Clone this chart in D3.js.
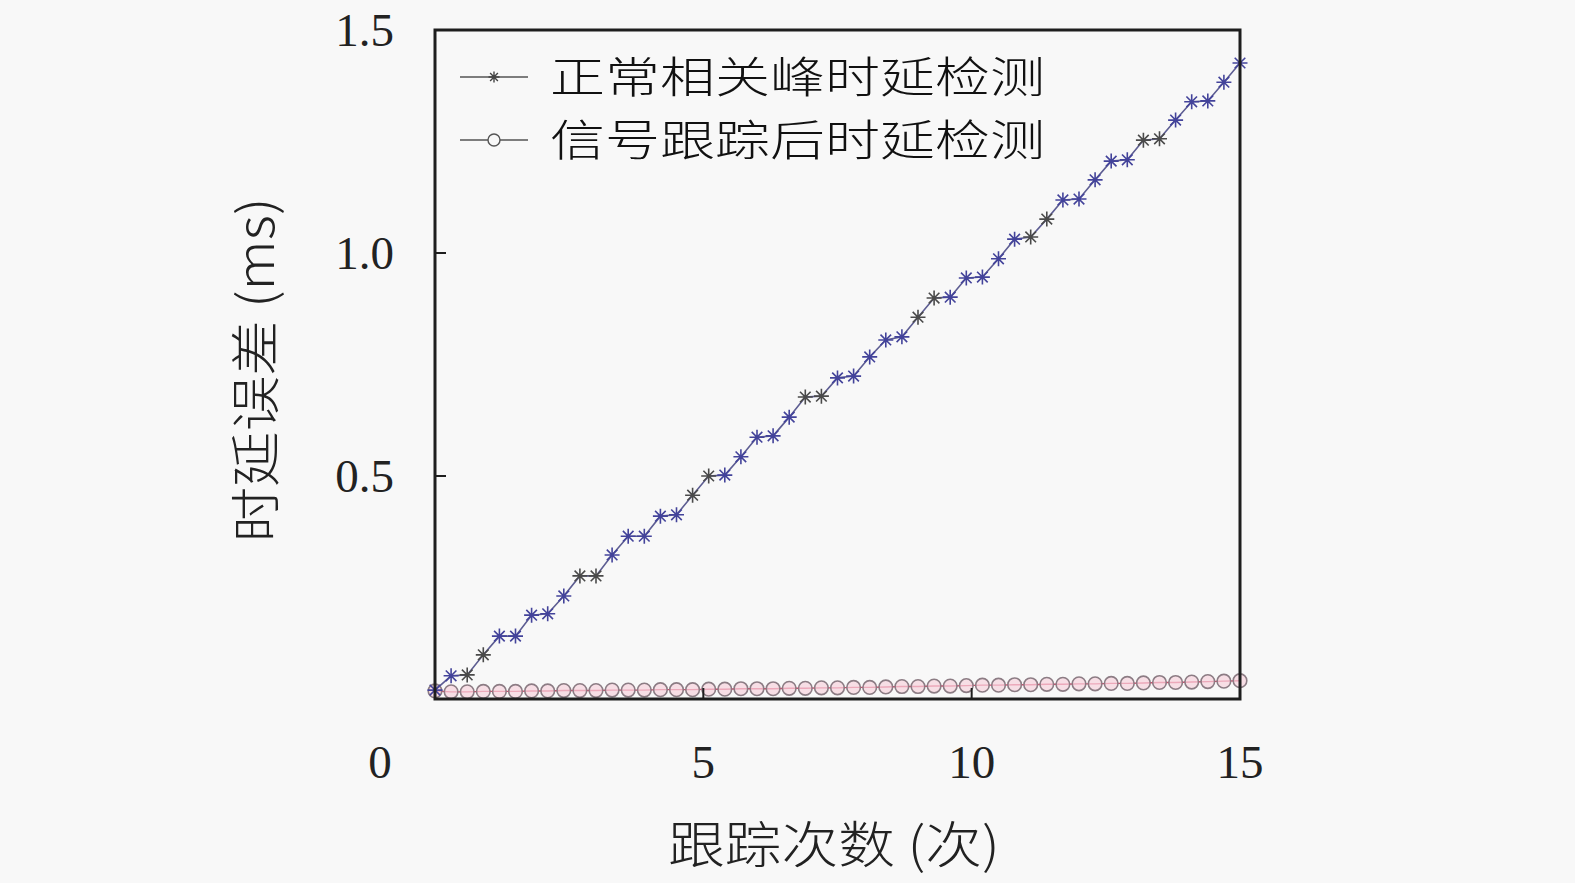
<!DOCTYPE html>
<html>
<head>
<meta charset="utf-8">
<script src="https://cdn.jsdelivr.net/npm/d3@7/dist/d3.min.js"></script>
<style>
  html, body { margin: 0; padding: 0; background: #f8f8f8; }
  svg { display: block; }
</style>
</head>
<body>
<svg id="chart" width="1575" height="883"></svg>
<script>
// ---- data ----
const xValues = d3.range(51).map(i => +(i * 0.3).toFixed(1)); // tracking count, step 0.3
const normalDelay = [
  0.020, 0.052, 0.054, 0.099, 0.141, 0.141, 0.188, 0.191, 0.231, 0.276,
  0.276, 0.323, 0.365, 0.365, 0.410, 0.413, 0.457, 0.500, 0.502, 0.543,
  0.587, 0.590, 0.632, 0.677, 0.679, 0.720, 0.724, 0.767, 0.805, 0.812,
  0.856, 0.899, 0.901, 0.944, 0.946, 0.987, 1.031, 1.036, 1.076, 1.119,
  1.121, 1.164, 1.206, 1.209, 1.253, 1.256, 1.298, 1.339, 1.341, 1.383,
  1.426
];
const trackedDelay = [
  0.018, 0.016, 0.016, 0.017, 0.017, 0.017, 0.018, 0.018, 0.019, 0.019,
  0.019, 0.020, 0.020, 0.020, 0.021, 0.021, 0.021, 0.022, 0.022, 0.023,
  0.023, 0.023, 0.024, 0.024, 0.025, 0.025, 0.026, 0.026, 0.027, 0.028,
  0.028, 0.029, 0.029, 0.030, 0.031, 0.031, 0.032, 0.032, 0.033, 0.033,
  0.034, 0.034, 0.035, 0.035, 0.036, 0.037, 0.037, 0.038, 0.039, 0.040,
  0.041
];
const seriesNames = ["正常相关峰时延检测", "信号跟踪后时延检测"];
const xTicks = [0, 5, 10, 15];
const yTicks = [0.5, 1.0, 1.5];
const xTitle = "跟踪次数 (次)";
const yTitle = "时延误差 (ms)";

// ---- layout ----
const svg = d3.select("#chart");
const padL = 435, padR = 1240, padT = 30, padB = 699;
const x = d3.scaleLinear().domain([0, 15]).range([padL, padR]);
const y = d3.scaleLinear().domain([0, 1.5]).range([padB, padT]);

const numFont = "'Liberation Serif', 'DejaVu Serif', serif";
const cjkFont = "'Noto Sans CJK SC', 'Noto Sans', sans-serif";

svg.append("rect").attr("width", 1575).attr("height", 883).attr("fill", "#f8f8f8");

svg.append("clipPath").attr("id", "clip")
  .append("rect").attr("x", padL - 8).attr("y", padT).attr("width", padR - padL + 16).attr("height", padB - padT + 4);

// ---- series ----
const g = svg.append("g").attr("clip-path", "url(#clip)");

function starPath(r) {
  const d = r * Math.SQRT1_2;
  return `M${-r},0L${r},0M0,${-r}L0,${r}M${-d},${-d}L${d},${d}M${-d},${d}L${d},${-d}`;
}

const line = d3.line().x((d, i) => x(xValues[i])).y(d => y(d));

// tracked series (circles)
g.append("path").datum(trackedDelay)
  .attr("d", line)
  .attr("fill", "none").attr("stroke", "#d2476a").attr("stroke-width", 1.4);
g.selectAll("circle.trk").data(trackedDelay).join("circle")
  .attr("class", "trk")
  .attr("cx", (d, i) => x(xValues[i]))
  .attr("cy", d => y(d))
  .attr("r", 6.8)
  .attr("fill", "#f7d3dd").attr("fill-opacity", 0.7)
  .attr("stroke", "#8c7c84").attr("stroke-width", 1.6);

// normal series (stars)
g.append("path").datum(normalDelay)
  .attr("d", line)
  .attr("fill", "none").attr("stroke", "#5d5d92").attr("stroke-width", 1.6);
g.selectAll("path.star").data(normalDelay).join("path")
  .attr("class", "star")
  .attr("transform", (d, i) => `translate(${x(xValues[i])},${y(d)})`)
  .attr("d", starPath(7.5))
  .attr("fill", "none")
  .attr("stroke", (d, i) => (i % 7 === 2 || i % 7 === 3) ? "#4a4a4a" : "#43439a")
  .attr("stroke-width", 1.6);

// ---- axes box ----
svg.append("rect")
  .attr("x", padL).attr("y", padT)
  .attr("width", padR - padL).attr("height", padB - padT)
  .attr("fill", "none").attr("stroke", "#1e1e1e").attr("stroke-width", 3);

const tickLen = 11;
svg.selectAll("line.xt").data(xTicks.filter(t => t > 0 && t < 15)).join("line")
  .attr("class", "xt")
  .attr("x1", d => x(d)).attr("x2", d => x(d))
  .attr("y1", padB).attr("y2", padB - tickLen)
  .attr("stroke", "#1e1e1e").attr("stroke-width", 2);
svg.selectAll("line.yt").data(yTicks.filter(t => t < 1.5)).join("line")
  .attr("class", "yt")
  .attr("x1", padL).attr("x2", padL + tickLen)
  .attr("y1", d => y(d)).attr("y2", d => y(d))
  .attr("stroke", "#1e1e1e").attr("stroke-width", 2);

svg.selectAll("text.xl").data(xTicks).join("text")
  .attr("class", "xl")
  .attr("x", d => d === 0 ? x(0) - 55 : x(d))
  .attr("y", 778)
  .attr("text-anchor", "middle")
  .attr("font-family", numFont).attr("font-size", 47).attr("fill", "#222")
  .text(d => d3.format("d")(d));
svg.selectAll("text.yl").data(yTicks).join("text")
  .attr("class", "yl")
  .attr("x", 394)
  .attr("y", d => y(d) + 16)
  .attr("text-anchor", "end")
  .attr("font-family", numFont).attr("font-size", 47).attr("fill", "#222")
  .text(d => d3.format(".1f")(d));

svg.append("text")
  .attr("x", 834).attr("y", 863)
  .attr("text-anchor", "middle")
  .attr("font-family", cjkFont).attr("font-weight", 300).attr("font-size", 50).attr("fill", "#222")
  .attr("textLength", 332).attr("lengthAdjust", "spacingAndGlyphs")
  .text(xTitle);
svg.append("text")
  .attr("transform", "translate(274,370) rotate(-90)")
  .attr("text-anchor", "middle")
  .attr("font-family", cjkFont).attr("font-weight", 300).attr("font-size", 50).attr("fill", "#222")
  .attr("textLength", 345).attr("lengthAdjust", "spacingAndGlyphs")
  .text(yTitle);

// ---- legend ----
const lg = svg.append("g");
const rowY = [77, 140];
seriesNames.forEach((name, k) => {
  lg.append("line")
    .attr("x1", 460).attr("x2", 528)
    .attr("y1", rowY[k]).attr("y2", rowY[k])
    .attr("stroke", "#555").attr("stroke-width", 1.5);
  if (k === 0) {
    lg.append("path")
      .attr("transform", `translate(494,${rowY[k]})`)
      .attr("d", starPath(5.5))
      .attr("fill", "none").attr("stroke", "#444").attr("stroke-width", 1.4);
  } else {
    lg.append("circle")
      .attr("cx", 494).attr("cy", rowY[k]).attr("r", 6)
      .attr("fill", "#f8f8f8").attr("stroke", "#555").attr("stroke-width", 1.4);
  }
  lg.append("text")
    .attr("x", 550).attr("y", rowY[k] + 16)
    .attr("font-family", cjkFont).attr("font-weight", 300).attr("font-size", 43).attr("fill", "#111")
    .attr("textLength", 495).attr("lengthAdjust", "spacingAndGlyphs")
    .text(name);
});
</script>
</body>
</html>
